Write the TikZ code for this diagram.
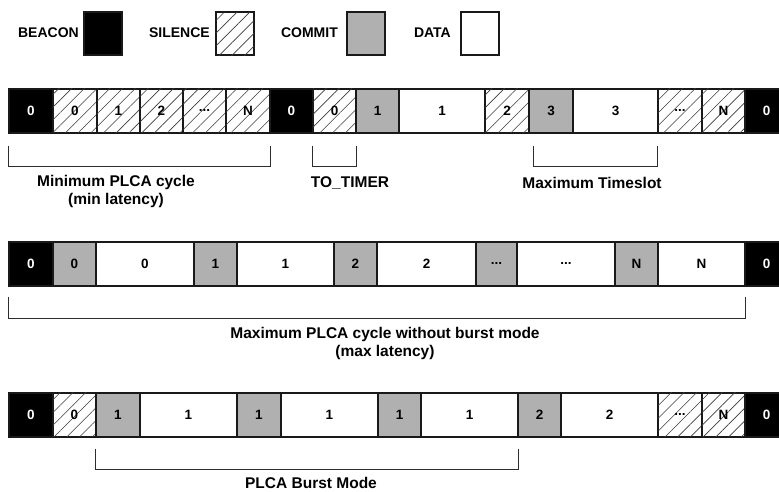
\documentclass[tikz,border=0pt]{standalone}
\usepackage{fontspec}
\setmainfont{Liberation Sans}
\usetikzlibrary{patterns.meta,calc}

\definecolor{commitgray}{RGB}{176,176,176}
\definecolor{hatchgray}{RGB}{60,60,60}
\definecolor{edgegray}{RGB}{25,25,25}
\definecolor{bracketgray}{RGB}{45,45,45}

% one time slot: name, left x, right x, top y, kind, label
\newcommand\slot[6]{%
  \node[cell,#5,minimum width={#3pt-#2pt}] (#1) at ({(#2+#3)/2},#4) {#6};}

\begin{document}
\begin{tikzpicture}[x=1pt,y=-1pt,
  cell/.style={draw=edgegray,line width=1.5pt,minimum height=44pt,inner sep=0pt,
    anchor=north,font=\bfseries\fontsize{13.5}{15}\selectfont},
  beacon/.style={fill=black,text=white},
  silence/.style={fill=white,postaction={pattern={Lines[angle=45,distance=9pt,line width=0.6pt]},pattern color=hatchgray}},
  commit/.style={fill=commitgray},
  data/.style={fill=white},
  legbox/.style={draw=edgegray,line width=1.4pt,minimum width=38pt,minimum height=43pt,inner sep=0pt},
  legtext/.style={anchor=east,inner sep=0pt,font=\bfseries\fontsize{14}{16}\selectfont},
  bracket/.style={draw=bracketgray,line width=1.1pt},
  caption/.style={inner sep=0pt,align=center,font=\bfseries\fontsize{15.5}{18}\selectfont},
]
\useasboundingbox (0,0) rectangle (779,491);

% legend
\node[legtext] (tb) at (79,33) {BEACON};
\node[legbox,beacon] (kb) at (103,33.5) {};
\node[legtext] (ts) at (210,33) {SILENCE};
\node[legbox,silence] (ks) at (235,33.5) {};
\node[legtext] (tc) at (338,33) {COMMIT};
\node[legbox,commit] (kc) at (366,33.5) {};
\node[legtext] (td) at (451,33) {DATA};
\node[legbox,data] (kd) at (480,33.5) {};

% row 1: idle cycles, then a cycle with two transmissions
\slot{r1a}{9}{53}{88}{beacon}{0}
\slot{r1b}{53}{97}{88}{silence}{0}
\slot{r1c}{97}{140}{88}{silence}{1}
\slot{r1d}{140}{183}{88}{silence}{2}
\slot{r1e}{183}{226}{88}{silence}{...}
\slot{r1f}{226}{270}{88}{silence}{N}
\slot{r1g}{270}{313}{88}{beacon}{0}
\slot{r1h}{313}{356}{88}{silence}{0}
\slot{r1i}{356}{399}{88}{commit}{1}
\slot{r1j}{399}{485}{88}{data}{1}
\slot{r1k}{485}{529}{88}{silence}{2}
\slot{r1l}{529}{573}{88}{commit}{3}
\slot{r1m}{573}{658}{88}{data}{3}
\slot{r1n}{658}{702}{88}{silence}{...}
\slot{r1o}{702}{745}{88}{silence}{N}
\slot{r1p}{745}{788}{88}{beacon}{0}

\draw[bracket] ($(r1a.south west)+(0,12)$) -- ++(0,21) -| ($(r1f.south east)+(0,12)$);
\draw[bracket] ($(r1h.south west)+(0,12)$) -- ++(0,21) -| ($(r1h.south east)+(0,12)$);
\draw[bracket] ($(r1l.south west)+(5,12)$) -- ++(0,21) -| ($(r1m.south east)+(-1,12)$);
\node[caption] (l1a) at (116,191.5) {Minimum PLCA cycle\\(min latency)};
\node[caption] (l1b) at (350,183) {TO\_TIMER};
\node[caption] (l1c) at (592,183) {Maximum Timeslot};

% row 2: every node transmits
\slot{r2a}{9}{53}{241}{beacon}{0}
\slot{r2b}{53}{96}{241}{commit}{0}
\slot{r2c}{96}{194}{241}{data}{0}
\slot{r2d}{194}{237}{241}{commit}{1}
\slot{r2e}{237}{334}{241}{data}{1}
\slot{r2f}{334}{377}{241}{commit}{2}
\slot{r2g}{377}{476}{241}{data}{2}
\slot{r2h}{476}{517}{241}{commit}{...}
\slot{r2i}{517}{615}{241}{data}{...}
\slot{r2j}{615}{658}{241}{commit}{N}
\slot{r2k}{658}{745}{241}{data}{N}
\slot{r2l}{745}{788}{241}{beacon}{0}

\draw[bracket] ($(r2a.south west)+(0,10)$) -- ++(0,22) -| ($(r2k.south east)+(0,10)$);
\node[caption] (l2) at (385,343.5) {Maximum PLCA cycle without burst mode\\(max latency)};

% row 3: burst mode
\slot{r3a}{9}{53}{392}{beacon}{0}
\slot{r3b}{53}{96}{392}{silence}{0}
\slot{r3c}{96}{140}{392}{commit}{1}
\slot{r3d}{140}{237}{392}{data}{1}
\slot{r3e}{237}{281}{392}{commit}{1}
\slot{r3f}{281}{378}{392}{data}{1}
\slot{r3g}{378}{421}{392}{commit}{1}
\slot{r3h}{421}{518}{392}{data}{1}
\slot{r3i}{518}{561}{392}{commit}{2}
\slot{r3j}{561}{658}{392}{data}{2}
\slot{r3k}{658}{702}{392}{silence}{...}
\slot{r3l}{702}{745}{392}{silence}{N}
\slot{r3m}{745}{788}{392}{beacon}{0}

\draw[bracket] ($(r3c.south west)+(0,11)$) -- ++(0,21) -| ($(r3h.south east)+(0,11)$);
\node[caption] (l3) at (311,483) {PLCA Burst Mode};
\end{tikzpicture}
\end{document}
